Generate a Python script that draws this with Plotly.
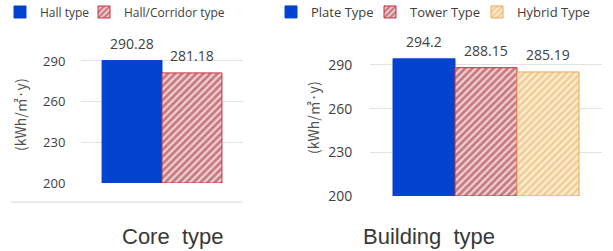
import plotly.graph_objects as go

core_names = ["Hall type", "Hall/Corridor type"]
core_values = [290.28, 281.18]
core_labels = ["290.28", "281.18"]

bld_names = ["Plate Type", "Tower Type", "Hybrid Type"]
bld_values = [294.2, 288.15, 285.19]
bld_labels = ["294.2", "288.15", "285.19"]

y_ticks = [200, 230, 260, 290]
cat = [""]

BLUE = "#0343d0"
RED_FG, RED_BG, RED_LN = "#982436", "#f3d0d0", "#c8303a"
ORG_FG, ORG_BG, ORG_LN = "#e2aa68", "#fcecca", "#f2a65a"

FONT = "Open Sans"
TXT = "#404040"
BARGAP = 0.26

fig = go.Figure()

def red_style():
    return dict(color=RED_BG, line=dict(color=RED_LN, width=1),
                pattern=dict(shape="/", fgcolor=RED_FG, bgcolor=RED_BG, size=5, solidity=0.55, fillmode="overlay"))

core_styles = [dict(color=BLUE, line=dict(color=BLUE, width=1)), red_style()]
core_legends = ["legend", "legend2"]
for n, v, s, lg in zip(core_names, core_values, core_styles, core_legends):
    fig.add_trace(go.Bar(name=n, x=cat, y=[v - 200], base=200, marker=s,
                         xaxis="x", yaxis="y", legend=lg, hoverinfo="skip"))

bld_styles = [
    dict(color=BLUE, line=dict(color=BLUE, width=1)),
    red_style(),
    dict(color=ORG_BG, line=dict(color=ORG_LN, width=1),
         pattern=dict(shape="/", fgcolor=ORG_FG, bgcolor=ORG_BG, size=5, solidity=0.5, fillmode="overlay")),
]
bld_legends = ["legend3", "legend4", "legend5"]
for n, v, s, lg in zip(bld_names, bld_values, bld_styles, bld_legends):
    fig.add_trace(go.Bar(name=n, x=cat, y=[v - 200], base=200, marker=s,
                         xaxis="x2", yaxis="y2", legend=lg, hoverinfo="skip"))

annotations = []
def add_labels(values, labels, xr, yr):
    n = len(values)
    w = (1 - BARGAP) / n
    for i, (v, t) in enumerate(zip(values, labels)):
        off = (i - (n - 1) / 2) * w
        annotations.append(dict(x=off, y=v, xref=xr, yref=yr, text=t, showarrow=False,
                                xanchor="center", yanchor="bottom", yshift=6,
                                font=dict(size=14, color=TXT, family=FONT)))

add_labels(core_values, core_labels, "x", "y")
add_labels(bld_values, bld_labels, "x2", "y2")

cap_font = dict(size=22, color="#383838", family="Liberation Sans")
annotations.append(dict(x=172.5 / 613, y=1 - 236 / 251, xref="paper", yref="paper", text="Core\u00a0 type",
                        xanchor="center", yanchor="middle", showarrow=False, font=cap_font))
annotations.append(dict(x=428.5 / 613, y=1 - 236 / 251, xref="paper", yref="paper", text="Building\u00a0 type",
                        xanchor="center", yanchor="middle", showarrow=False, font=cap_font))
ytitle_font = dict(size=14, color="#505050", family="Noto Sans CJK KR")
annotations.append(dict(x=20 / 613, y=1 - 115 / 251, xref="paper", yref="paper", text="(kWh/㎡·y)",
                        xanchor="center", yanchor="middle", textangle=-90, showarrow=False, font=ytitle_font))
annotations.append(dict(x=313 / 613, y=1 - 117 / 251, xref="paper", yref="paper", text="(kWh/㎡·y)",
                        xanchor="center", yanchor="middle", textangle=-90, showarrow=False, font=ytitle_font))

shapes = [dict(type="line", xref="paper", yref="paper", x0=10 / 613, x1=243 / 613,
               y0=1 - 202 / 251, y1=1 - 202 / 251, line=dict(color="#d9d9d9", width=1))]

def yax(size, ticklen):
    return dict(range=[200, 300], tickvals=y_ticks, showgrid=True, gridcolor="#e3e3e3", gridwidth=1,
                zeroline=False, showline=False, ticks="outside", ticklen=ticklen, tickcolor="rgba(0,0,0,0)",
                tickfont=dict(size=size, color=TXT, family=FONT), automargin=False)

xax_common = dict(showticklabels=False, showgrid=False, zeroline=False, showline=False, ticks="",
                  automargin=False)

right_half = (232 / 186) * (1 - BARGAP) / 2

def leg(xpx, size):
    return dict(orientation="h", xref="container", yref="container", x=xpx / 613, y=1 - 12 / 251,
                xanchor="left", yanchor="middle", font=dict(size=size, color=TXT, family=FONT),
                itemwidth=30, bgcolor="rgba(0,0,0,0)")

fig.update_layout(
    width=613, height=251, margin=dict(l=0, r=0, t=0, b=0, autoexpand=False),
    paper_bgcolor="white", plot_bgcolor="white",
    barmode="group", bargap=BARGAP, bargroupgap=0,
    xaxis=dict(domain=[81 / 613, 243 / 613], anchor="y", range=[-0.5, 0.5], **xax_common),
    yaxis=dict(domain=[(251 - 183) / 251, (251 - 47.4) / 251], anchor="x", **yax(13, 12)),
    xaxis2=dict(domain=[370 / 613, 602 / 613], anchor="y2", range=[-right_half, right_half], **xax_common),
    yaxis2=dict(domain=[(251 - 196) / 251, (251 - 50.4) / 251], anchor="x2", **yax(14, 14)),
    legend=leg(-8, 12),
    legend2=leg(84, 12),
    legend3=leg(271, 13),
    legend4=leg(370, 13),
    legend5=leg(477, 13),
    annotations=annotations, shapes=shapes, showlegend=True,
)

fig.write_html("out.html")
